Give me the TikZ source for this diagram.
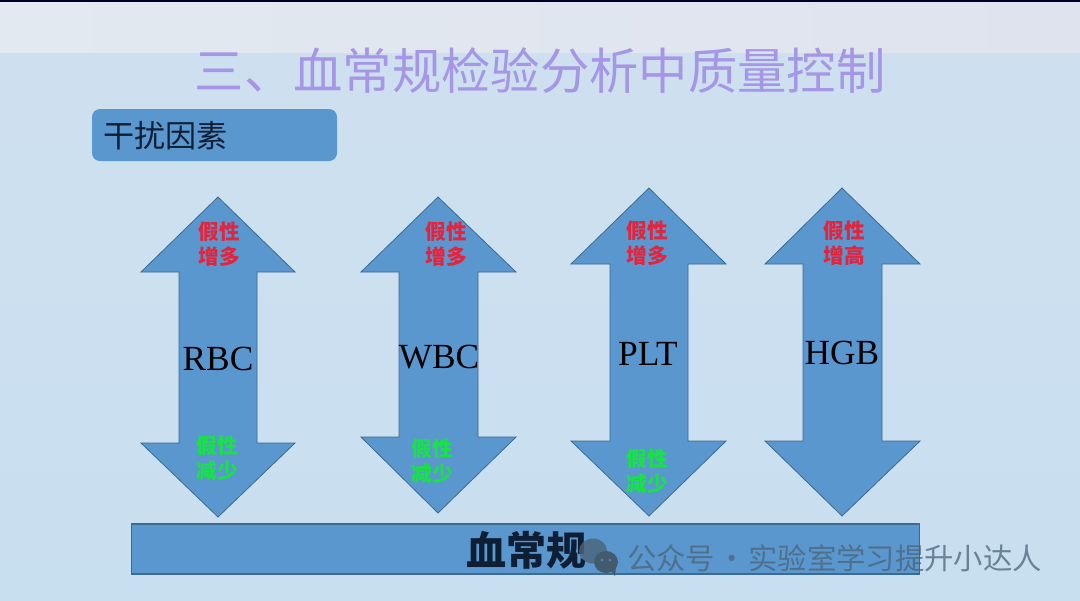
\documentclass[tikz,border=0pt]{standalone}
\usepackage{fontspec}
\setmainfont{Liberation Serif}
\newfontfamily\cjk{Noto Sans CJK SC}
\definecolor{bluefill}{HTML}{5A97CF}
\definecolor{blueedge}{HTML}{3E6A8E}
\definecolor{titlec}{HTML}{A596E6}
\definecolor{darkt}{HTML}{0E1E34}
\definecolor{redt}{HTML}{E3243C}
\definecolor{greent}{HTML}{17E344}
\definecolor{wmark}{HTML}{4A6378}
\definecolor{bgtop}{HTML}{CFE0F0}
\definecolor{bgbot}{HTML}{C8DFF0}
\definecolor{bandl}{HTML}{E2E9F0}
\definecolor{bandr}{HTML}{DFE3EE}
\tikzset{
  arrowshape/.style={draw=blueedge,line width=0.6pt,fill=bluefill,line join=miter},
  barbox/.style={draw=blueedge,line width=0.8pt,fill=bluefill},
  tagbox/.style={fill=bluefill,rounded corners=6pt},
  labelred/.style={text=redt,font=\cjk\bfseries\fontsize{15.5}{18.5}\selectfont,align=center,inner sep=0pt},
  labelgreen/.style={text=greent,font=\cjk\bfseries\fontsize{15.5}{18.5}\selectfont,align=center,inner sep=0pt},
  labelname/.style={text=black,font=\fontsize{26.5}{30}\selectfont,inner sep=0pt}
}
% #1 left, #2 shaft left, #3 tip x, #4 shaft right, #5 right, #6 top, #7 upper base, #8 lower base, #9 bottom
\newcommand{\twoheadarrow}[9]{%
  \draw[arrowshape] (#3,#6) -- (#5,#7) -- (#4,#7) -- (#4,#8) -- (#5,#8) -- (#3,#9)
    -- (#1,#8) -- (#2,#8) -- (#2,#7) -- (#1,#7) -- cycle;}
\begin{document}
\begin{tikzpicture}[x=0.75pt,y=-0.75pt]
\useasboundingbox (0,0) rectangle (1080,600);
% background
\shade[top color=bgtop,bottom color=bgbot] (0,0) rectangle (1080,600);
\shade[left color=bandl,right color=bandr] (0,0) rectangle (1080,52);
\fill[black!85!blue] (0,0) rectangle (1080,1.5);
% title
\node[text=titlec,font=\cjk\fontsize{37}{40}\selectfont,inner sep=0pt] (title) at (540,71) {三、血常规检验分析中质量控制};
% tag
\node[tagbox,minimum width=183.75pt,minimum height=39pt,inner sep=0pt] (tag) at (214.5,135) {};
\node[text=darkt,font=\cjk\fontsize{23.3}{26}\selectfont,inner sep=0pt,anchor=west] (tagtext) at (103,136) {干扰因素};
% arrows
\twoheadarrow{141}{179}{218}{257}{295}{197}{272}{443}{517}
\twoheadarrow{361}{399}{438}{478}{516}{197}{272}{437}{513}
\twoheadarrow{571}{610}{649}{688}{726}{188}{264}{441}{516}
\twoheadarrow{765}{803}{842}{882}{920}{188}{264}{441}{516}
% names
\node[labelname] (rbc) at (218,359) {RBC};
\node[labelname] (wbc) at (439,357) {WBC};
\node[labelname] (plt) at (648,354) {PLT};
\node[labelname] (hgb) at (842,353) {HGB};
% red labels
\node[labelred] (r1) at (219,244) {假性\\增多};
\node[labelred] (r2) at (446,244) {假性\\增多};
\node[labelred] (r3) at (647,243) {假性\\增多};
\node[labelred] (r4) at (844,243) {假性\\增高};
% green labels
\node[labelgreen] (g1) at (217,458) {假性\\减少};
\node[labelgreen] (g2) at (432,461) {假性\\减少};
\node[labelgreen] (g3) at (647,471) {假性\\减少};
% bar
\node[barbox,minimum width=591pt,minimum height=37.5pt,inner sep=0pt,outer sep=0pt] (bar) at (525.5,549) {};
\node[text=darkt,font=\cjk\bfseries\fontsize{30}{32}\selectfont,inner sep=0pt] (bartext) at (526,550) {血常规};
% watermark icon
\fill[wmark,opacity=.8] (593,551) ellipse [x radius=14,y radius=12.5];
\fill[wmark!70!bluefill] (588,549) circle [radius=1.6] (598,549) circle [radius=1.6];
\fill[wmark!92!black] (606,562) ellipse [x radius=12,y radius=11];
\fill[wmark!92!black] (610,570) -- (615,576) -- (616,567) -- cycle;
\fill[bluefill!70!wmark] (602,560) circle [radius=1.4] (610,560) circle [radius=1.4];
% watermark text
\node[text=wmark,opacity=.75,font=\cjk\fontsize{22}{24}\selectfont,inner sep=0pt,anchor=west] (wm) at (627,558) {公众号\hspace{-3.4pt} · \hspace{-3.4pt}实验室学习提升小达人};
\end{tikzpicture}
\end{document}
